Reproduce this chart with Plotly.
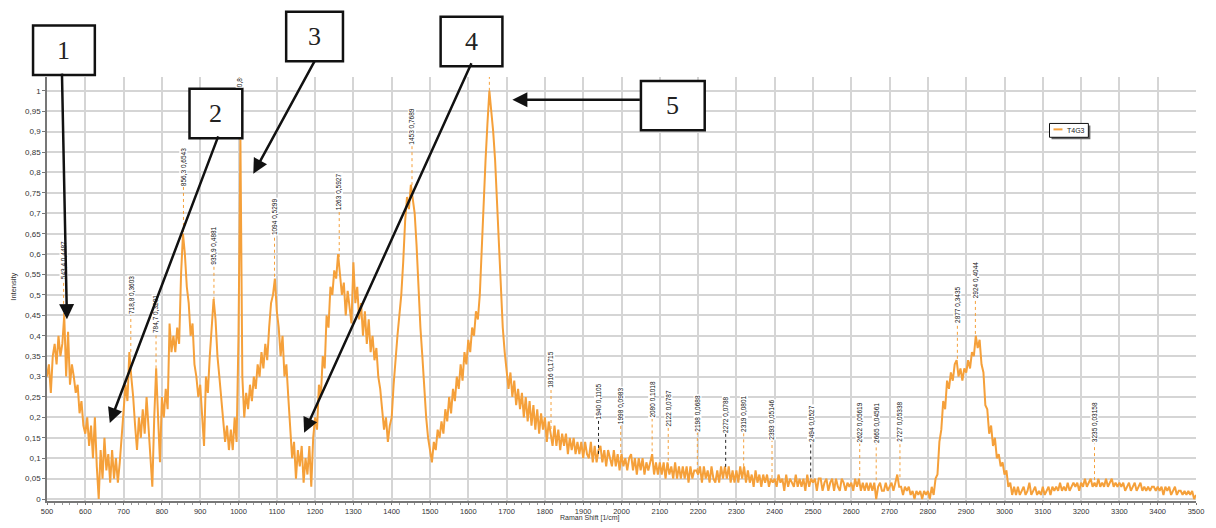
import plotly.graph_objects as go

# ---------------- data ----------------
raman_shift = list(range(500, 3501, 5))

intensity = [
    # 500-595
    0.30, 0.33, 0.26, 0.35, 0.38, 0.33, 0.40, 0.35, 0.38, 0.45, 0.30, 0.41, 0.28, 0.33, 0.30, 0.26, 0.28, 0.21, 0.24, 0.18,
    # 600-695
    0.16, 0.20, 0.13, 0.18, 0.10, 0.20, 0.08, 0.00, 0.12, 0.05, 0.15, 0.07, 0.11, 0.04, 0.12, 0.05, 0.10, 0.04, 0.09, 0.15,
    # 700-795
    0.20, 0.28, 0.24, 0.36, 0.30, 0.25, 0.18, 0.12, 0.20, 0.15, 0.22, 0.16, 0.25, 0.18, 0.12, 0.03, 0.20, 0.32, 0.20, 0.09,
    # 800-895
    0.25, 0.20, 0.27, 0.22, 0.43, 0.36, 0.40, 0.36, 0.42, 0.38, 0.55, 0.65, 0.60, 0.52, 0.48, 0.40, 0.43, 0.33, 0.30, 0.25,
    # 900-995
    0.28, 0.20, 0.13, 0.30, 0.26, 0.35, 0.42, 0.49, 0.44, 0.35, 0.30, 0.25, 0.20, 0.14, 0.18, 0.12, 0.17, 0.12, 0.20, 0.14,
    # 1000-1095
    0.40, 0.88, 0.30, 0.20, 0.26, 0.22, 0.28, 0.24, 0.30, 0.27, 0.33, 0.30, 0.36, 0.32, 0.38, 0.34, 0.42, 0.48, 0.50, 0.54,
    # 1100-1195
    0.46, 0.42, 0.35, 0.40, 0.30, 0.33, 0.25, 0.18, 0.10, 0.14, 0.05, 0.12, 0.08, 0.13, 0.04, 0.10, 0.06, 0.13, 0.03, 0.15,
    # 1200-1295
    0.20, 0.17, 0.28, 0.25, 0.35, 0.32, 0.45, 0.42, 0.52, 0.50, 0.56, 0.54, 0.60, 0.55, 0.50, 0.53, 0.45, 0.51, 0.47, 0.43,
    # 1300-1395
    0.58, 0.48, 0.52, 0.44, 0.48, 0.40, 0.46, 0.38, 0.44, 0.36, 0.40, 0.34, 0.37, 0.30, 0.27, 0.22, 0.17, 0.20, 0.14, 0.18,
    # 1400-1495
    0.20, 0.28, 0.35, 0.40, 0.45, 0.50, 0.58, 0.68, 0.74, 0.71, 0.77, 0.73, 0.70, 0.62, 0.50, 0.42, 0.35, 0.27, 0.20, 0.15,
    # 1500-1595
    0.12, 0.09, 0.14, 0.12, 0.17, 0.15, 0.19, 0.16, 0.22, 0.19, 0.25, 0.21, 0.27, 0.24, 0.30, 0.27, 0.33, 0.29, 0.36, 0.33,
    # 1600-1695
    0.39, 0.36, 0.42, 0.40, 0.46, 0.44, 0.50, 0.62, 0.72, 0.83, 0.92, 1.00, 0.95, 0.90, 0.83, 0.72, 0.62, 0.52, 0.42, 0.36,
    # 1700-1795
    0.32, 0.27, 0.31, 0.25, 0.29, 0.23, 0.27, 0.22, 0.26, 0.20, 0.25, 0.19, 0.24, 0.18, 0.23, 0.17, 0.22, 0.16, 0.21, 0.17,
    # 1800-1895
    0.20, 0.14, 0.19, 0.16, 0.13, 0.18, 0.13, 0.17, 0.12, 0.16, 0.13, 0.16, 0.11, 0.15, 0.12, 0.15, 0.11, 0.14, 0.11, 0.14,
    # 1900-1995
    0.10, 0.14, 0.11, 0.10, 0.14, 0.09, 0.13, 0.09, 0.12, 0.13, 0.09, 0.12, 0.08, 0.12, 0.10, 0.08, 0.12, 0.08, 0.11, 0.07,
    # 2000-2095
    0.11, 0.08, 0.10, 0.07, 0.10, 0.11, 0.07, 0.10, 0.06, 0.10, 0.07, 0.10, 0.06, 0.09, 0.07, 0.09, 0.11, 0.06, 0.09, 0.06,
    # 2100-2195
    0.09, 0.06, 0.09, 0.05, 0.09, 0.06, 0.08, 0.05, 0.09, 0.05, 0.08, 0.05, 0.08, 0.05, 0.08, 0.04, 0.08, 0.05, 0.07, 0.07,
    # 2200-2295
    0.06, 0.08, 0.04, 0.08, 0.05, 0.07, 0.04, 0.08, 0.05, 0.04, 0.07, 0.04, 0.08, 0.05, 0.08, 0.05, 0.08, 0.04, 0.07, 0.04,
    # 2300-2395
    0.07, 0.04, 0.08, 0.05, 0.08, 0.04, 0.07, 0.04, 0.06, 0.03, 0.07, 0.04, 0.06, 0.03, 0.06, 0.04, 0.06, 0.03, 0.05, 0.04,
    # 2400-2495
    0.05, 0.03, 0.06, 0.04, 0.05, 0.02, 0.06, 0.03, 0.05, 0.04, 0.03, 0.06, 0.03, 0.05, 0.03, 0.05, 0.02, 0.06, 0.03, 0.05,
    # 2500-2595
    0.04, 0.05, 0.02, 0.05, 0.05, 0.02, 0.04, 0.05, 0.02, 0.04, 0.05, 0.02, 0.05, 0.03, 0.02, 0.05, 0.04, 0.02, 0.04, 0.03,
    # 2600-2695
    0.04, 0.02, 0.05, 0.03, 0.05, 0.02, 0.04, 0.02, 0.04, 0.02, 0.04, 0.02, 0.04, 0.00, 0.03, 0.04, 0.02, 0.02, 0.04, 0.02,
    # 2700-2795
    0.03, 0.04, 0.02, 0.04, 0.06, 0.03, 0.03, 0.01, 0.03, 0.02, 0.03, 0.01, 0.02, 0.00, 0.02, 0.01, 0.02, 0.00, 0.02, 0.01,
    # 2800-2895
    0.02, 0.00, 0.03, 0.01, 0.05, 0.06, 0.14, 0.17, 0.24, 0.22, 0.29, 0.27, 0.31, 0.29, 0.33, 0.34, 0.30, 0.32, 0.29, 0.32,
    # 2900-2995
    0.31, 0.34, 0.32, 0.36, 0.35, 0.40, 0.37, 0.39, 0.33, 0.31, 0.23, 0.22, 0.16, 0.18, 0.13, 0.15, 0.10, 0.11, 0.08, 0.09,
    # 3000-3095
    0.06, 0.07, 0.03, 0.04, 0.01, 0.03, 0.01, 0.03, 0.01, 0.02, 0.03, 0.01, 0.02, 0.04, 0.01, 0.02, 0.03, 0.01, 0.02, 0.01,
    # 3100-3195
    0.03, 0.01, 0.02, 0.03, 0.01, 0.03, 0.02, 0.03, 0.02, 0.04, 0.02, 0.03, 0.02, 0.04, 0.02, 0.03, 0.04, 0.03, 0.04, 0.02,
    # 3200-3295
    0.04, 0.03, 0.05, 0.03, 0.04, 0.05, 0.03, 0.04, 0.03, 0.05, 0.03, 0.04, 0.03, 0.05, 0.03, 0.04, 0.05, 0.03, 0.04, 0.03,
    # 3300-3395
    0.04, 0.03, 0.04, 0.02, 0.03, 0.04, 0.02, 0.03, 0.04, 0.02, 0.03, 0.04, 0.02, 0.03, 0.02, 0.03, 0.02, 0.03, 0.03, 0.02,
    # 3400-3500
    0.03, 0.02, 0.03, 0.01, 0.03, 0.02, 0.03, 0.01, 0.02, 0.03, 0.01, 0.02, 0.02, 0.01, 0.02, 0.01, 0.02, 0.01, 0.02, 0.00, 0.01,
]
assert len(raman_shift) == len(intensity), (len(raman_shift), len(intensity))

series_name = "T4G3"

peak_shift = [543.4, 718.8, 784.7, 856.3, 935.9, 1094, 1263, 1453,
              1816, 1940, 1998, 2080, 2122, 2198, 2272, 2319, 2393,
              2494, 2622, 2665, 2727, 2877, 2924, 3235]
peak_intensity = [0.4487, 0.3603, 0.3201, 0.6543, 0.4881, 0.5299, 0.5927, 0.7689,
                  0.1715, 0.1105, 0.0983, 0.1018, 0.0787, 0.0688, 0.0788, 0.0801, 0.05146,
                  0.0527, 0.05619, 0.04561, 0.05338, 0.3435, 0.4044, 0.03158]
peak_text = ["543,4 0,4487", "718,8 0,3603", "784,7 0,3201", "856,3 0,6543", "935,9 0,4881",
             "1094 0,5299", "1263 0,5927", "1453 0,7689",
             "1816 0,1715", "1940 0,1105", "1998 0,0983", "2080 0,1018", "2122 0,0787",
             "2198 0,0688", "2272 0,0788", "2319 0,0801", "2393 0,05146", "2494 0,0527",
             "2622 0,05619", "2665 0,04561", "2727 0,05338", "2877 0,3435", "2924 0,4044",
             "3235 0,03158"]

# peaks whose labels sit above the visible plot area
top_peak_shift = [1003, 1655]
top_peak_intensity = [0.8804, 1.0]
top_peak_text = ["0,8", ""]

y_tick_values = [0, 0.05, 0.1, 0.15, 0.2, 0.25, 0.3, 0.35, 0.4, 0.45, 0.5,
                 0.55, 0.6, 0.65, 0.7, 0.75, 0.8, 0.85, 0.9, 0.95, 1]
y_tick_labels = ["0", "0,05", "0,1", "0,15", "0,2", "0,25", "0,3", "0,35", "0,4", "0,45", "0,5",
                 "0,55", "0,6", "0,65", "0,7", "0,75", "0,8", "0,85", "0,9", "0,95", "1"]

callout_numbers = ["1", "2", "3", "4", "5"]

# ---------------- layout helpers (positions / styles) ----------------
W, H = 1216, 528
PL, PR, PT, PB = 47, 1200, 77, 506
Y0_PX, Y1_PX = 504, 91
UNIT = Y0_PX - Y1_PX
Y_MIN = (Y0_PX - PB) / UNIT
Y_MAX = (Y0_PX - PT) / UNIT


def pxx(xp):
    return (xp - PL) / (PR - PL)


def pxy(yp):
    return (PB - yp) / (PB - PT)


def val_of_px(yp):
    return (Y0_PX - yp) / UNIT


ORANGE = "#F5A03A"
GRID = "#d5d5d5"
TICKFONT = dict(family="Liberation Sans, Arial, sans-serif", size=8, color="#333333")

fig = go.Figure()
fig.add_trace(go.Scatter(
    x=raman_shift, y=intensity, mode="lines", name=series_name,
    line=dict(color=ORANGE, width=2), showlegend=False,
))

shapes = []
annotations = []

# label bottoms (pixel rows) for each peak label
label_bottom_px = [283, 318, 337, 188, 268, 238, 213, 147,
                   393, 425, 429, 423, 432, 437, 438, 437, 445,
                   447, 448, 448, 447, 327, 302, 448]
black_conn = {1940, 2272, 2494}

for xs, ys, txt, bpx in zip(peak_shift, peak_intensity, peak_text, label_bottom_px):
    yb = val_of_px(bpx)
    col = "#222222" if xs in black_conn else ORANGE
    shapes.append(dict(type="line", xref="x", yref="y", x0=xs, x1=xs, y0=ys, y1=yb,
                       line=dict(color=col, width=1, dash="dot"), layer="above"))
    annotations.append(dict(x=xs, y=yb, xref="x", yref="y", text=txt, showarrow=False,
                            textangle=-90, xanchor="center", yanchor="bottom",
                            font=dict(family="Liberation Sans, Arial, sans-serif", size=6.5, color="#111111"),
                            bgcolor="white", borderpad=0))

# peaks labelled above the plot top
for xs, ys, txt in zip(top_peak_shift, top_peak_intensity, top_peak_text):
    shapes.append(dict(type="line", xref="x", yref="y", x0=xs, x1=xs, y0=ys, y1=Y_MAX,
                       line=dict(color=ORANGE, width=1, dash="dot"), layer="above"))
    if txt:
        annotations.append(dict(x=xs, y=Y_MAX, xref="x", yref="y", text=txt, showarrow=False,
                                textangle=-90, xanchor="center", yanchor="top",
                                font=dict(family="Liberation Sans, Arial, sans-serif", size=6.5, color="#111111"),
                                bgcolor="white", borderpad=0))

# numbered callout boxes (pixel rectangles) and their arrows
boxes_px = [(33, 25, 95, 75), (190, 89, 243, 139), (287, 11, 344, 61),
            (442, 16, 504, 66), (643, 81, 707, 131)]
arrow_tail_px = [(62, 75), (219, 139), (316, 61), (473, 66), (643, 100)]
arrow_tip_px = [(67, 322), (110, 427), (254, 175), (305, 437), (514, 100)]

for (x0, y0, x1, y1), num in zip(boxes_px, callout_numbers):
    shapes.append(dict(type="rect", xref="paper", yref="paper",
                       x0=pxx(x0), x1=pxx(x1), y0=pxy(y1), y1=pxy(y0),
                       line=dict(color="#111111", width=2.5), fillcolor="white", layer="above"))
    annotations.append(dict(x=pxx((x0 + x1) / 2), y=pxy((y0 + y1) / 2), xref="paper", yref="paper",
                            text=num, showarrow=False, xanchor="center", yanchor="middle",
                            font=dict(family="Liberation Serif, Times New Roman, serif", size=26, color="#222222")))

for (tx, ty), (hx, hy) in zip(arrow_tail_px, arrow_tip_px):
    annotations.append(dict(x=pxx(hx), y=pxy(hy), xref="paper", yref="paper", text="",
                            showarrow=True, ax=tx - hx, ay=ty - hy, axref="pixel", ayref="pixel",
                            arrowhead=2, arrowsize=1.2, arrowwidth=2.5, arrowcolor="#111111",
                            standoff=0, startstandoff=0))

# manual legend box
lx0, ly0, lx1, ly1 = 1053, 124, 1092, 138
shapes.append(dict(type="rect", xref="paper", yref="paper",
                   x0=pxx(lx0 + 2), x1=pxx(lx1 + 2), y0=pxy(ly1 + 2), y1=pxy(ly0 + 2),
                   line=dict(width=0), fillcolor="#666666", layer="above"))
shapes.append(dict(type="rect", xref="paper", yref="paper",
                   x0=pxx(lx0), x1=pxx(lx1), y0=pxy(ly1), y1=pxy(ly0),
                   line=dict(color="#111111", width=1), fillcolor="white", layer="above"))
shapes.append(dict(type="line", xref="paper", yref="paper",
                   x0=pxx(1057), x1=pxx(1066), y0=pxy(130), y1=pxy(130),
                   line=dict(color=ORANGE, width=2), layer="above"))
annotations.append(dict(x=pxx(1069), y=pxy(131), xref="paper", yref="paper", text=series_name,
                        showarrow=False, xanchor="left", yanchor="middle",
                        font=dict(family="Liberation Sans, Arial, sans-serif", size=7, color="#222222")))

# axis titles
annotations.append(dict(x=pxx(13), y=pxy(289), xref="paper", yref="paper", text="Intensity",
                        showarrow=False, textangle=-90, xanchor="center", yanchor="middle",
                        font=dict(family="Liberation Sans, Arial, sans-serif", size=7.5, color="#333333")))
annotations.append(dict(x=pxx(592), y=pxy(523.5), xref="paper", yref="paper", text="Raman Shift [1/cm]",
                        showarrow=False, xanchor="center", yanchor="middle",
                        font=dict(family="Liberation Sans, Arial, sans-serif", size=7, color="#333333")))

fig.update_layout(
    width=W, height=H,
    margin=dict(l=PL, r=W - PR, t=PT, b=H - PB, pad=0),
    paper_bgcolor="white", plot_bgcolor="white",
    shapes=shapes, annotations=annotations,
    showlegend=False,
    xaxis=dict(range=[500, 3500], tick0=500, dtick=100, showgrid=True, gridcolor=GRID, gridwidth=1.5,
               zeroline=False, showline=True, linecolor="#777777", linewidth=1.5,
               ticks="outside", ticklen=2, tickcolor="#777777",
               tickfont=dict(family="Liberation Sans, Arial, sans-serif", size=7.5, color="#333333"),
               minor=dict(dtick=20, ticks="outside", ticklen=2, tickcolor="#999999", showgrid=False)),
    yaxis=dict(range=[Y_MIN, Y_MAX], tickvals=y_tick_values, ticktext=y_tick_labels,
               showgrid=True, gridcolor=GRID, gridwidth=1.5,
               zeroline=False, showline=True, linecolor="#777777", linewidth=1.5,
               ticks="outside", ticklen=3, tickcolor="#777777", tickfont=TICKFONT),
)

fig.write_html("out.html")
